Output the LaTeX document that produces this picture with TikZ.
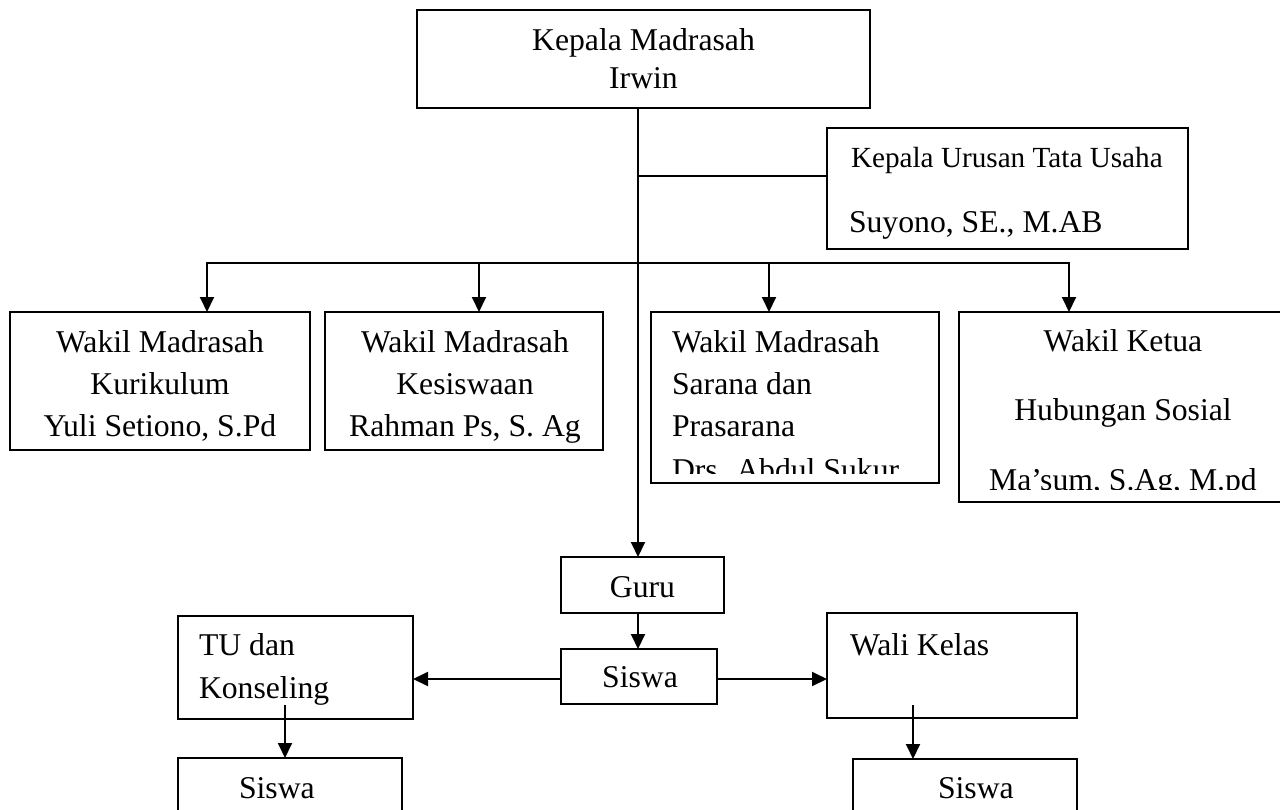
\documentclass[tikz,border=0pt]{standalone}
\usepackage{fontspec}
\setmainfont{Liberation Serif}
\usetikzlibrary{arrows.meta}
\tikzset{
  box/.style={draw, line width=1.4pt, inner sep=0pt, outer sep=0pt, anchor=north west},
  txt/.style={inner sep=0pt, outer sep=0pt, font=\fontsize{31.7}{38}\selectfont},
  smalltxt/.style={inner sep=0pt, outer sep=0pt, font=\fontsize{29.2}{35}\selectfont},
  conn/.style={line width=1.9pt},
  arr/.style={conn, -{Triangle[length=15pt,width=14pt]}},
}
\begin{document}
\begin{tikzpicture}[x=1pt,y=-1pt]
\useasboundingbox (0,0) rectangle (1280,809);
\clip (0,0) rectangle (1280,809);
\fill[white] (0,0) rectangle (1280,809);

% boxes
\node[box, minimum width=453, minimum height=98] (top) at (417,10) {};
\node[box, minimum width=361, minimum height=121] (urusan) at (827,128) {};
\node[box, minimum width=300, minimum height=138] (b1) at (10,312) {};
\node[box, minimum width=278, minimum height=138] (b2) at (325,312) {};
\node[box, minimum width=288, minimum height=171] (b3) at (651,312) {};
\node[box, minimum width=340, minimum height=190] (b4) at (959,312) {};
\node[box, minimum width=163, minimum height=56] (guru) at (561,557) {};
\node[box, minimum width=156, minimum height=55] (siswa) at (561,649) {};
\node[box, minimum width=235, minimum height=103] (tu) at (178,616) {};
\node[box, minimum width=250, minimum height=105] (wali) at (827,613) {};
\node[box, minimum width=224, minimum height=80] (siswaL) at (178,758) {};
\node[box, minimum width=224, minimum height=80] (siswaR) at (853,759) {};

% texts
\node[txt, anchor=base] (topA) at (643.5,50) {Kepala Madrasah};
\node[txt, anchor=base] (topB) at (643.5,88) {Irwin};
\node[smalltxt, anchor=base west] (urA) at (851,167) {Kepala Urusan Tata Usaha};
\node[txt, anchor=base west] (urB) at (849,232) {Suyono, SE., M.AB};

\node[txt, anchor=base] (b1A) at (160,352) {Wakil Madrasah};
\node[txt, anchor=base] (b1B) at (160,394) {Kurikulum};
\node[txt, anchor=base] (b1C) at (160,436) {Yuli Setiono, S.Pd};

\node[txt, anchor=base] (b2A) at (465,352) {Wakil Madrasah};
\node[txt, anchor=base] (b2B) at (465,394) {Kesiswaan};
\node[txt, anchor=base] (b2C) at (465,436) {Rahman Ps, S. Ag};

\begin{scope}
\clip (652,313) rectangle (938,473);
\node[txt, anchor=base west] (b3A) at (672,352) {Wakil Madrasah};
\node[txt, anchor=base west] (b3B) at (672,394) {Sarana dan};
\node[txt, anchor=base west] (b3C) at (672,436) {Prasarana};
\node[txt, anchor=base west] (b3D) at (672,480) {Drs. Abdul Sukur};
\end{scope}

\begin{scope}
\clip (960,313) rectangle (1280,489);
\node[txt, anchor=base] (b4A) at (1123,351) {Wakil Ketua};
\node[txt, anchor=base] (b4B) at (1123,420) {Hubungan Sosial};
\node[txt, anchor=base] (b4C) at (1123,490) {Ma’sum, S.Ag, M.pd};
\end{scope}

\node[txt, anchor=base] (guruT) at (642.5,597) {Guru};
\node[txt, anchor=base] (siswaT) at (640,687) {Siswa};
\node[txt, anchor=base west] (tuA) at (199,655) {TU dan};
\node[txt, anchor=base west] (tuB) at (199,698) {Konseling};
\node[txt, anchor=base west] (waliT) at (850,655) {Wali Kelas};
\node[txt, anchor=base west] (siswaLT) at (239,798) {Siswa};
\node[txt, anchor=base west] (siswaRT) at (938,798) {Siswa};

% helper coordinates
\coordinate (trunk) at (638,0);
\coordinate (br) at (638,176);
\coordinate (a1) at (207,263);
\coordinate (a2) at (479,263);
\coordinate (a3) at (769,263);
\coordinate (a4) at (1069,263);
\coordinate (hy) at (0,679);
\coordinate (tus) at (285,705);
\coordinate (wls) at (913,705);

% connectors
\draw[arr] (top.south -| trunk) -- (guru.north -| trunk);
\draw[conn] (br) -- (br -| urusan.west);
\draw[arr] (a2) -- (a1) -- (a1 |- b1.north);
\draw[arr] (a2) -- (a4) -- (a4 |- b4.north);
\draw[arr] (a2) -- (a2 |- b2.north);
\draw[arr] (a3) -- (a3 |- b3.north);
\draw[arr] (guru.south -| trunk) -- (siswa.north -| trunk);
\draw[arr] (siswa.west |- hy) -- (tu.east |- hy);
\draw[arr] (siswa.east |- hy) -- (wali.west |- hy);
\draw[arr] (tus) -- (tus |- siswaL.north);
\draw[arr] (wls) -- (wls |- siswaR.north);
\end{tikzpicture}
\end{document}
